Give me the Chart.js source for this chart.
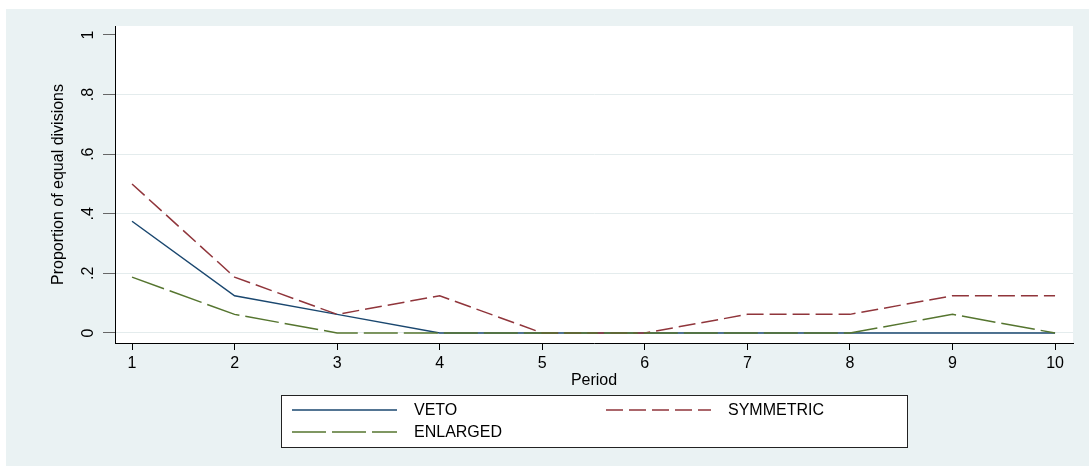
<!DOCTYPE html>
<html><head><meta charset="utf-8">
<script src="https://cdn.jsdelivr.net/npm/chart.js@4"></script>
<style>html,body{margin:0;padding:0;background:#fff}#wrap{width:1089px;height:466px;position:relative}</style>
</head><body><div id="wrap"><canvas id="c" width="1089" height="466"></canvas></div>
<script>
// ---- data ----
const periods = [1, 2, 3, 4, 5, 6, 7, 8, 9, 10];
const veto = [0.375, 0.125, 0.0625, 0, 0, 0, 0, 0, 0, 0];
const symmetric = [0.5, 0.1875, 0.0625, 0.125, 0, 0, 0.0625, 0.0625, 0.125, 0.125];
const enlarged = [0.1875, 0.0625, 0, 0, 0, 0, 0, 0, 0.0625, 0];
const yTicks = [0, 0.2, 0.4, 0.6, 0.8, 1];
const yTickLabels = ['0', '.2', '.4', '.6', '.8', '1'];
const seriesNames = ['VETO', 'SYMMETRIC', 'ENLARGED'];
const xTitle = 'Period';
const yTitle = 'Proportion of equal divisions';

// ---- styles ----
const FONT = '"Liberation Sans", Arial, sans-serif';
const FS = 16;
const BG = '#eaf2f3';
const GRID = '#e4eced';
const colors = ['#1a476f', '#90353b', '#55752f'];
const dashes = [[], [17, 6], [34, 6]];

const toXY = arr => periods.map((p, i) => ({ x: p, y: arr[i] }));
const seriesData = [veto, symmetric, enlarged];

const datasets = seriesData.map((arr, i) => ({
  label: seriesNames[i],
  data: toXY(arr),
  borderColor: colors[i],
  backgroundColor: colors[i],
  borderWidth: 1.5,
  borderDash: dashes[i],
  pointRadius: 0,
  tension: 0,
  fill: false,
  order: 3 - i
}));

const deco = {
  id: 'deco',
  beforeDraw(chart) {
    const ctx = chart.ctx, a = chart.chartArea;
    ctx.save();
    ctx.fillStyle = '#fff';
    ctx.fillRect(0, 0, chart.width, chart.height);
    ctx.fillStyle = BG;
    ctx.fillRect(6, 9, chart.width - 6, chart.height - 9);
    ctx.fillStyle = '#fff';
    ctx.fillRect(a.left, a.top, a.right - a.left, a.bottom - a.top);
    ctx.restore();
  },
  afterDraw(chart) {
    const ctx = chart.ctx, a = chart.chartArea, ys = chart.scales.y;
    ctx.save();
    ctx.fillStyle = '#000';
    ctx.font = FS + 'px ' + FONT;
    ctx.textAlign = 'center';
    ctx.textBaseline = 'middle';
    // rotated y tick labels
    yTicks.forEach((v, i) => {
      const py = ys.getPixelForValue(v);
      ctx.save();
      ctx.translate(a.left - 26, py);
      ctx.rotate(-Math.PI / 2);
      ctx.fillText(yTickLabels[i], 0, 0);
      ctx.restore();
    });
    // y title
    ctx.save();
    ctx.translate(a.left - 56, (a.top + a.bottom) / 2);
    ctx.rotate(-Math.PI / 2);
    ctx.fillText(yTitle, 0, 0);
    ctx.restore();
    // x title
    const cx = (a.left + a.right) / 2;
    ctx.fillText(xTitle, cx, a.bottom + 38);
    // legend box
    const lw = 626, lh = 52;
    const lx = Math.round(cx - lw / 2), ly = a.bottom + 52;
    ctx.fillStyle = '#fff';
    ctx.fillRect(lx, ly, lw, lh);
    ctx.strokeStyle = '#222';
    ctx.lineWidth = 1;
    ctx.setLineDash([]);
    ctx.strokeRect(lx + 0.5, ly + 0.5, lw, lh);
    const slots = [[lx + 11, ly + 15], [lx + 325, ly + 15], [lx + 11, ly + 37]];
    chart.data.datasets.forEach((ds, i) => {
      const [sx, sy] = slots[i];
      ctx.save();
      ctx.strokeStyle = ds.borderColor;
      ctx.lineWidth = ds.borderWidth;
      ctx.setLineDash(ds.borderDash);
      ctx.beginPath();
      ctx.moveTo(sx, sy);
      ctx.lineTo(sx + 105, sy);
      ctx.stroke();
      ctx.restore();
      ctx.fillStyle = '#000';
      ctx.textAlign = 'left';
      ctx.fillText(ds.label, sx + 122, sy + 1);
    });
    ctx.restore();
  }
};

new Chart(document.getElementById('c'), {
  type: 'line',
  data: { datasets },
  plugins: [deco],
  options: {
    responsive: false,
    devicePixelRatio: 1,
    animation: false,
    layout: { padding: { left: 0, top: 26, right: 16, bottom: 0 } },
    plugins: { legend: { display: false }, tooltip: { enabled: false } },
    scales: {
      x: {
        type: 'linear',
        min: 0.834,
        max: 10.175,
        afterBuildTicks: s => { s.ticks = periods.map(v => ({ value: v })); },
        afterFit: s => { s.height = 123; },
        ticks: {
          font: { family: FONT, size: FS },
          color: '#000',
          padding: 4,
          maxRotation: 0,
          autoSkip: false,
          callback: v => String(v)
        },
        grid: { drawOnChartArea: false, drawTicks: true, tickLength: 7, tickColor: '#000', tickWidth: 1 },
        border: { display: true, color: '#000', width: 1 }
      },
      y: {
        type: 'linear',
        min: -0.0336,
        max: 1.0302,
        afterBuildTicks: s => { s.ticks = yTicks.map(v => ({ value: v })); },
        afterFit: s => { s.width = 115; },
        ticks: { display: false },
        grid: {
          color: c => (c.tick && c.tick.value === 1) ? 'rgba(0,0,0,0)' : GRID,
          lineWidth: 1,
          drawTicks: true,
          tickLength: 12,
          tickColor: '#666',
          tickWidth: 1
        },
        border: { display: true, color: '#000', width: 1 }
      }
    }
  }
});
</script>
</body></html>
